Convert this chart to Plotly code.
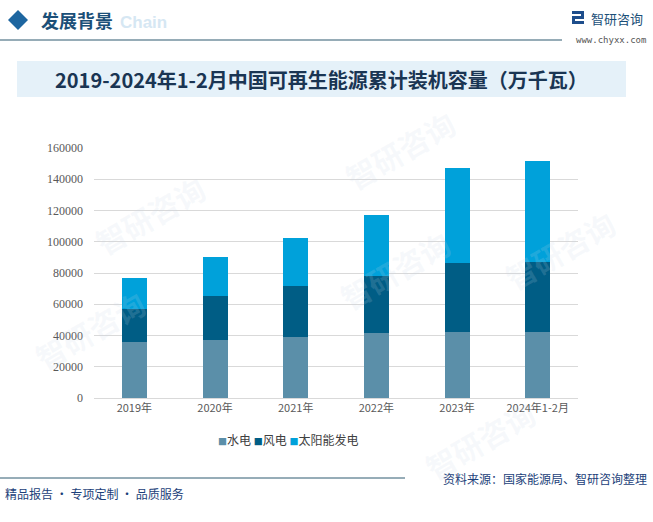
import plotly.graph_objects as go

categories = ["2019年", "2020年", "2021年", "2022年", "2023年", "2024年1-2月"]
hydro = [35640, 37016, 39092, 41350, 42154, 42500]
wind = [21005, 28153, 32848, 36544, 44134, 44700]
solar = [20468, 25343, 30656, 39261, 60949, 64600]
series_names = ["水电", "风电", "太阳能发电"]
y_ticks = [0, 20000, 40000, 60000, 80000, 100000, 120000, 140000, 160000]

colors = ["#5B8FA9", "#005D85", "#00A1DA"]
W, H = 653, 522
L, R, T, B = 94, 578, 148, 398
CJK = "Noto Sans CJK SC"

def px(x, y):
    return (x - L) / (R - L), (B - y) / (B - T)

fig = go.Figure()
for name, vals, c in zip(series_names, [hydro, wind, solar], colors):
    fig.add_trace(go.Bar(x=categories, y=vals, name=name, showlegend=False,
                         marker=dict(color=c, line=dict(width=0))))

shapes = []
annotations = []

def rect(x0, y0, x1, y1, color, layer="above"):
    a0, b0 = px(x0, y1); a1, b1 = px(x1, y0)
    shapes.append(dict(type="rect", xref="paper", yref="paper", x0=a0, y0=b0, x1=a1, y1=b1,
                       fillcolor=color, line=dict(width=0), layer=layer))

def hline(x0, x1, y, color, width):
    a0, b = px(x0, y); a1, _ = px(x1, y)
    shapes.append(dict(type="line", xref="paper", yref="paper", x0=a0, y0=b, x1=a1, y1=b,
                       line=dict(color=color, width=width)))

# header diamond
cx, cy, s = 18, 20, 10
pts = [px(cx, cy - s), px(cx + s, cy), px(cx, cy + s), px(cx - s, cy)]
path = "M {} {} L {} {} L {} {} L {} {} Z".format(*[v for p in pts for v in p])
shapes.append(dict(type="path", path=path, xref="paper", yref="paper", fillcolor="#1E66A0", line=dict(width=0)))
hline(0, 562, 40, "#2E5A70", 1.2)
rect(17, 61, 626, 97, "#E5F1F9", layer="below")
hline(0, 405, 478, "#2E5A70", 1)

# small logo icon
rect(572, 11, 584, 14, "#1E4E8C")
rect(581, 11, 584, 18, "#1E4E8C")
rect(572, 16, 584, 19, "#1E4E8C")
rect(572, 16, 575, 24, "#1E4E8C")
rect(572, 21, 584, 24, "#1E4E8C")

def ann(text, x, y, size, color, xanchor="left", family=CJK, angle=0, yanchor="middle"):
    ax, ay = px(x, y)
    annotations.append(dict(text=text, x=ax, y=ay, xref="paper", yref="paper", showarrow=False,
                            xanchor=xanchor, yanchor=yanchor, textangle=angle,
                            font=dict(size=size, color=color, family=family)))

# watermarks
for (wx, wy) in [(150, 215), (400, 150), (395, 270), (480, 440), (560, 250), (90, 330)]:
    ann("<b>智研咨询</b>", wx, wy, 30, "rgba(200,215,230,0.16)", xanchor="center", angle=-30)

ann("<b>Chain</b>", 118, 22, 17, "#D6E7F3", family="Arial")
ann("<b>发展背景</b>", 39, 20, 18, "#1B4F78")
ann("智研咨询", 589, 18, 13, "#1B4F78")
ann("www.chyxx.com", 648, 40, 9, "#555555", xanchor="right", family="DejaVu Sans Mono")
ann("<b>2019-2024年1-2月中国可再生能源累计装机容量（万千瓦）</b>", 321, 79, 20, "#1A3553", xanchor="center")
ann("资料来源：国家能源局、智研咨询整理", 649, 478, 12, "#1C3F7A", xanchor="right")
ann("精品报告 · 专项定制 · 品质服务", 3, 493, 12, "#1C3F7A")

# legend
legend_text = "&nbsp;".join(
    "<span style='color:{}; font-size:9px'>■</span>{}".format(c, n) for n, c in zip(series_names, colors))
ann(legend_text, 288, 439, 12, "#404040", xanchor="center")

fig.update_layout(
    width=W, height=H,
    margin=dict(l=L, r=W - R, t=T, b=H - B, pad=0),
    paper_bgcolor="white", plot_bgcolor="white",
    barmode="stack", bargap=0.69,
    showlegend=False,
    xaxis=dict(showgrid=False, showline=True, linecolor="#D9D9D9", linewidth=1, ticks="",
               tickfont=dict(size=11, color="#595959", family=CJK)),
    yaxis=dict(range=[0, 160000], tickvals=y_ticks, ticktext=[str(v) for v in y_ticks],
               showgrid=True, gridcolor="#D9D9D9", gridwidth=1, zeroline=False, showline=False,
               ticks="", ticklabelstandoff=10,
               tickfont=dict(size=12, color="#595959", family="Liberation Serif")),
    shapes=shapes, annotations=annotations,
    font=dict(family=CJK),
)

fig.write_html("out.html", config={"displayModeBar": False},
               post_script="document.body.style.margin='0';document.body.style.padding='0';")
